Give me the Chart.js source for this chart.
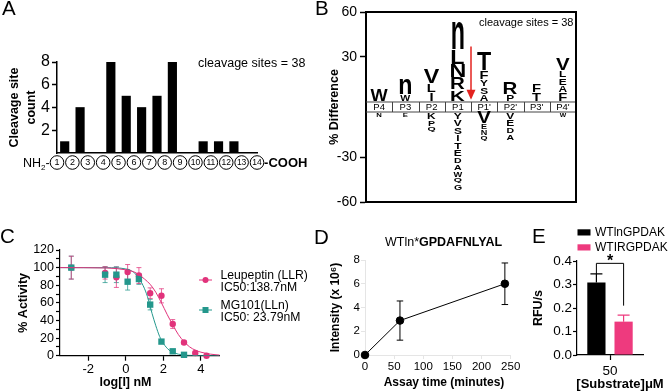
<!DOCTYPE html>
<html>
<head>
<meta charset="utf-8">
<title>Figure</title>
<script src="https://cdn.jsdelivr.net/npm/chart.js@4.4.1/dist/chart.umd.min.js"></script>
<style>
html, body { margin:0; padding:0; background:#ffffff; }
#fig { position:relative; width:669px; height:392px; background:#ffffff; overflow:hidden; }
#fig canvas { position:absolute; }
</style>
</head>
<body>
<div id="fig"></div>
<script>
// ================= DATA =================
// Panel A : cleavage sites between consecutive residues
const aResidues = ['1','2','3','4','5','6','7','8','9','10','11','12','13','14'];
const aCleavageCounts = [1, 4, 0, 8, 5, 4, 5, 8, 0, 1, 1, 1, 0];
const aYTicks = [2, 4, 6, 8];

// Panel B : sequence logo (% difference), letters listed top -> bottom
const bPositions = ['P4', 'P3', 'P2', 'P1', "P1'", "P2'", "P3'", "P4'"];
const bUpLetters = [['W'], ['n','W'], ['V','L','I'], ['n','L','N','R','K'], ['T','F','Y','S','A'], ['R','P'], ['F','T'], ['V','L','E','A','F']];
const bUpValues  = [[8], [11,5], [10,6,6], [19,10,9,8,8], [13,6,5,5,5], [8,5], [6,6], [8,5,5,5,6]];
const bDownLetters = [['N'], ['E'], ['K','P','Q'], ['Y','V','S','I','T','E','D','A','W','Q','G'], ['V','E','N','Q'], ['V','E','D','A'], [], ['W']];
const bDownValues  = [[3.5], [3.5], [5,4.5,4.5], [5,5,5,5,5,5,4.5,4.5,4.5,4.5,4.5], [8,4,4,4], [5,5,4.5,4.5], [], [3.5]];
const bYTickLabels = [60, 30, -30, -60];
const bArrow = [37, 1.5];

// Panel C : dose response
const cLogDose = [-2.9, -1.1, -0.5, 0.1, 0.7, 1.3, 1.9, 2.5, 3.1, 3.7, 4.3];
const cLeupeptin    = [100, 94, 89, 95, 91, 71, 68, 36, 15, 3, 0];
const cLeupeptinErr = [13, 7, 11.5, 8.5, 9, 6, 8, 5, 2, 1, 0.5];
const cMG101    = [100, 92, 92, 84, 87, 58, 16, 5, 1];
const cMG101Err = [13, 9, 9, 9.5, 6, 6, 2, 1.5, 1];
const cLeupeptinFitX = [-3.5, -1, 0, 0.4, 0.7, 1.0, 1.3, 1.6, 1.9, 2.2, 2.5, 2.8, 3.1, 3.4, 3.7, 4, 4.5, 5];
const cLeupeptinFitY = [100, 99.6, 97.5, 95.5, 92, 87, 81, 72, 60, 47, 35, 24, 16, 10, 6.3, 4, 1.8, 0.7];
const cMG101FitX = [-3.5, -1, 0, 0.4, 0.7, 1.0, 1.2, 1.4, 1.6, 1.8, 2.0, 2.3, 2.6, 3.0, 3.5, 4, 5];
const cMG101FitY = [100, 99.9, 98.5, 95, 88, 76, 64, 48, 34, 22, 14, 6.5, 3, 1, 0.3, 0.1, 0];
const cXTicks = [-2, 0, 2, 4];
const cYTicks = [0, 10, 20, 30, 40, 50, 60, 70, 80, 90, 100, 110, 120];
const cLegend = [['Leupeptin (LLR)', 'IC50:138.7nM'], ['MG101(LLn)', 'IC50: 23.79nM']];

// Panel D : time course
const dTimeMin = [0, 60, 240];
const dIntensity = [0, 2.9, 6.0];
const dIntensityErr = [0, 1.65, 1.75];
const dXTicks = [0, 50, 100, 150, 200, 250];
const dYTicks = [0, 2, 4, 6, 8];

// Panel E : rates
const eSeries = ['WTlnGPDAK', 'WTIRGPDAK'];
const eSubstrate = ['50'];
const eRateWTln = [0.308];
const eErrWTln = [0.037];
const eRateWTIR = [0.142];
const eErrWTIR = [0.028];
const eYTicks = [0, 0.1, 0.2, 0.3, 0.4];
const eBracket = [0.39, 0.345, 0.21];

// ================= HELPERS =================
const FONT = "'Liberation Sans', Arial, Helvetica, sans-serif";
const PINK_C = '#E1337B';
const PINK_C_ERR = 'rgba(225,51,123,0.75)';
const TEAL_C = '#24978C';
const TEAL_C_ERR = 'rgba(36,151,140,0.75)';
const PINK_E = '#EE3A7E';
const B_BAND = 6.667;
// panel canvases: [left, top, width, height] in page pixels
const PANEL_A = [0, 0, 312, 214];
const PANEL_B = [312, 0, 357, 214];
const PANEL_C = [0, 214, 312, 178];
const PANEL_D = [312, 214, 216, 178];
const PANEL_E = [528, 214, 141, 178];

Chart.defaults.font.family = FONT;
Chart.defaults.color = '#000';
Chart.defaults.animation = false;
Chart.defaults.plugins.legend.display = false;
Chart.defaults.plugins.tooltip.enabled = false;
Chart.defaults.events = [];

function makeCanvas(p) {
  const c = document.createElement('canvas');
  c.width = p[2]; c.height = p[3];
  c.style.left = p[0] + 'px'; c.style.top = p[1] + 'px';
  document.getElementById('fig').appendChild(c);
  return c;
}
// chart area given in page pixels
function layoutFor(p, left, top, right, bottom, yW, xH) {
  return { padding: { left: left - yW - p[0], top: top - p[1], right: p[0] + p[2] - right, bottom: p[1] + p[3] - bottom - xH } };
}
function fit(size) {
  return s => { if (s.isHorizontal()) s.height = size; else s.width = size; };
}
function setTicks(arr) {
  return s => { s.ticks = arr.map(v => ({ value: v })); };
}
function pageDraw(ctx, p, fn) {
  ctx.save(); ctx.translate(-p[0], -p[1]); fn(); ctx.restore();
}
function txt(ctx, s, x, y, size, o) {
  o = o || {};
  ctx.save();
  ctx.font = (o.weight || 'normal') + ' ' + size + 'px ' + FONT;
  ctx.fillStyle = o.color || '#000';
  ctx.textAlign = o.align || 'left';
  ctx.textBaseline = o.baseline || 'alphabetic';
  ctx.fillText(s, x, y);
  const w = ctx.measureText(s).width;
  ctx.restore();
  return w;
}
function measure(ctx, s, size, weight) {
  ctx.save();
  ctx.font = (weight || 'normal') + ' ' + size + 'px ' + FONT;
  const w = ctx.measureText(s).width;
  ctx.restore();
  return w;
}
function errBar(ctx, x, yTop, yBot, cap, color, lw, bottomCap) {
  ctx.save();
  ctx.strokeStyle = color; ctx.lineWidth = lw;
  ctx.beginPath();
  ctx.moveTo(x, yTop); ctx.lineTo(x, yBot);
  ctx.moveTo(x - cap / 2, yTop); ctx.lineTo(x + cap / 2, yTop);
  if (bottomCap) { ctx.moveTo(x - cap / 2, yBot); ctx.lineTo(x + cap / 2, yBot); }
  ctx.stroke();
  ctx.restore();
}
function drawLetter(ctx, ch, cx, yTop, yBot) {
  const h = yBot - yTop - 1.2;
  if (h <= 0) return;
  ctx.save();
  ctx.font = 'bold 100px ' + FONT;
  const m = ctx.measureText(ch);
  const gh = m.actualBoundingBoxAscent + m.actualBoundingBoxDescent;
  const gw = m.actualBoundingBoxLeft + m.actualBoundingBoxRight;
  const sy = h / gh;
  const ratio = Math.max(0.2, Math.min(1.45, gw / 58));
  const w = Math.min(h * 1.1, 13.5) * ratio;
  const sx = w / gw;
  ctx.fillStyle = '#000';
  ctx.textAlign = 'left';
  ctx.textBaseline = 'alphabetic';
  ctx.translate(cx, yBot - 0.6);
  ctx.scale(sx, sy);
  ctx.fillText(ch, -gw / 2 + m.actualBoundingBoxLeft, -m.actualBoundingBoxDescent);
  ctx.restore();
}

// ================= PANEL D (created first) =================
new Chart(makeCanvas(PANEL_D), {
  type: 'line',
  data: {
    datasets: [{
      data: dTimeMin.map((t, i) => ({ x: t, y: dIntensity[i] })),
      borderColor: '#000', borderWidth: 1, pointRadius: 3.8, pointBackgroundColor: '#000', clip: false
    }]
  },
  options: {
    responsive: false,
    devicePixelRatio: 1,
    layout: layoutFor(PANEL_D, 365, 260, 510.7, 355, 45, 28),
    scales: {
      x: {
        type: 'linear', min: 0, max: 250,
        afterBuildTicks: setTicks(dXTicks),
        ticks: { font: { size: 11.5 }, padding: 1, autoSkip: false, maxRotation: 0 },
        grid: { drawOnChartArea: false, tickLength: 4 },
        afterFit: fit(28)
      },
      y: {
        min: 0, max: 8,
        afterBuildTicks: setTicks(dYTicks),
        ticks: { font: { size: 11.5 }, padding: 1, autoSkip: false },
        grid: { drawOnChartArea: false, tickLength: 4 },
        title: { display: true, text: 'Intensity (x 10\u2076)', font: { size: 12, weight: 'bold' }, padding: { top: 8.3, bottom: 0 } },
        afterFit: fit(45)
      }
    }
  },
  plugins: [{
    id: 'panelD',
    beforeDatasetsDraw(chart) {
      const { ctx, scales: { x, y } } = chart;
      dIntensity.forEach((v, i) => {
        if (!dIntensityErr[i]) return;
        errBar(ctx, x.getPixelForValue(dTimeMin[i]), y.getPixelForValue(v + dIntensityErr[i]), y.getPixelForValue(v - dIntensityErr[i]), 6.5, '#000', 1, true);
      });
    },
    afterDraw(chart) {
      const { ctx } = chart;
      pageDraw(ctx, PANEL_D, () => {
        const w1 = txt(ctx, 'WTln*', 385, 243, 12.5, { baseline: 'middle' });
        txt(ctx, 'GPDAFNLYAL', 385 + w1, 243, 12.5, { weight: 'bold', baseline: 'middle' });
        txt(ctx, 'Assay time (minutes)', 444, 383, 12, { weight: 'bold', align: 'center', baseline: 'middle' });
        txt(ctx, 'D', 314, 244, 20.5);
      });
    }
  }]
});

// ================= PANEL A =================
new Chart(makeCanvas(PANEL_A), {
  type: 'bar',
  data: {
    datasets: [{
      data: aCleavageCounts.map((c, i) => ({ x: i + 1.5, y: c })),
      backgroundColor: '#000',
      borderWidth: 0,
      barThickness: 8.5
    }]
  },
  options: {
    responsive: false,
    devicePixelRatio: 1,
    layout: layoutFor(PANEL_A, 57, 62, 257, 153, 57, 0),
    scales: {
      x: {
        type: 'linear', min: 1, max: 14, offset: false,
        ticks: { display: false },
        grid: { display: false, offset: false },
        border: { display: true, color: '#000', width: 1.5 },
        afterFit: fit(0)
      },
      y: {
        min: 0, max: 8,
        afterBuildTicks: setTicks(aYTicks),
        ticks: { font: { size: 16 }, padding: 2, color: '#000', autoSkip: false },
        grid: { drawOnChartArea: false, tickLength: 5, tickColor: '#000', tickWidth: 1.5 },
        border: { color: '#000', width: 1.5 },
        title: { display: true, text: ['Cleavage site', 'count'], font: { size: 12.5, weight: 'bold', lineHeight: 1.3 }, padding: { top: 6.9, bottom: 0 }, color: '#000' },
        afterFit: fit(57)
      }
    }
  },
  plugins: [{
    id: 'panelA',
    afterDraw(chart) {
      const { ctx, chartArea: ca, scales: { x } } = chart;
      const cy = ca.bottom + 9.5;
      const r = 6.8;
      aResidues.forEach((lab, i) => {
        const cx = x.getPixelForValue(i + 1);
        ctx.save();
        ctx.beginPath(); ctx.arc(cx, cy, r, 0, Math.PI * 2);
        ctx.fillStyle = '#fff'; ctx.fill();
        ctx.lineWidth = 1; ctx.strokeStyle = '#000'; ctx.stroke();
        ctx.restore();
        txt(ctx, lab, cx, cy + 0.5, lab.length > 1 ? 8.5 : 9, { align: 'center', baseline: 'middle' });
      });
      const leftEdge = x.getPixelForValue(1) - r - 0.5;
      const wDash = measure(ctx, '-', 12.5);
      const wTwo = measure(ctx, '2', 8);
      const wNH = measure(ctx, 'NH', 12.5);
      txt(ctx, '-', leftEdge - wDash, cy + 4, 12.5);
      txt(ctx, '2', leftEdge - wDash - wTwo, cy + 7, 8);
      txt(ctx, 'NH', leftEdge - wDash - wTwo - wNH, cy + 4, 12.5);
      txt(ctx, '-COOH', x.getPixelForValue(14) + r + 0.3, cy + 4, 13, { weight: 'bold' });
      const total = aCleavageCounts.reduce((s, v) => s + v, 0);
      pageDraw(ctx, PANEL_A, () => {
        txt(ctx, 'cleavage sites = ' + total, 198, 66.5, 12.5);
        txt(ctx, 'A', 2, 15, 20.5);
      });
    }
  }]
});

// ================= PANEL B =================
const bDatasets = [];
(function buildLogo() {
  const maxUp = Math.max(...bUpValues.map(a => a.length));
  for (let k = 0; k < maxUp; k++) {
    const data = [], letters = [];
    bUpValues.forEach((vals, c) => {
      const n = vals.length;
      if (k < n) {
        const idx = n - 1 - k;
        let start = 0;
        for (let j = n - 1; j > idx; j--) start += vals[j];
        data.push([start, start + vals[idx]]);
        letters.push(bUpLetters[c][idx]);
      } else { data.push(null); letters.push(null); }
    });
    bDatasets.push({ data, letters, backgroundColor: 'rgba(0,0,0,0)', borderWidth: 0, grouped: false, barPercentage: 1, categoryPercentage: 1 });
  }
  const maxDown = Math.max(...bDownValues.map(a => a.length));
  for (let k = 0; k < maxDown; k++) {
    const data = [], letters = [];
    bDownValues.forEach((vals, c) => {
      if (k < vals.length) {
        let above = 0;
        for (let j = 0; j < k; j++) above += vals[j];
        const top = -B_BAND - above;
        data.push([top - vals[k], top]);
        letters.push(bDownLetters[c][k]);
      } else { data.push(null); letters.push(null); }
    });
    bDatasets.push({ data, letters, backgroundColor: 'rgba(0,0,0,0)', borderWidth: 0, grouped: false, barPercentage: 1, categoryPercentage: 1 });
  }
})();

new Chart(makeCanvas(PANEL_B), {
  type: 'bar',
  data: { labels: bPositions, datasets: bDatasets },
  options: {
    responsive: false,
    devicePixelRatio: 1,
    layout: layoutFor(PANEL_B, 366, 12, 576, 202, 40, 0),
    scales: {
      x: {
        type: 'category', offset: true,
        ticks: { display: false },
        grid: { display: false },
        border: { display: true, color: '#000', width: 2 },
        afterFit: fit(0)
      },
      y: {
        min: -60 - B_BAND, max: 60,
        afterBuildTicks: setTicks(bYTickLabels.map(l => l > 0 ? l : l - B_BAND)),
        ticks: { font: { size: 14 }, padding: 3, color: '#000', autoSkip: false, callback: v => (v > 0 ? v : Math.round(v + B_BAND)) },
        grid: { drawOnChartArea: false, tickLength: 6, tickColor: '#000', tickWidth: 1.5 },
        border: { color: '#000', width: 2 },
        title: { display: true, text: '% Difference', font: { size: 12.5, weight: 'bold' }, padding: { top: 1.5, bottom: 0 }, color: '#000' },
        afterFit: fit(40)
      }
    }
  },
  plugins: [{
    id: 'panelB',
    afterDatasetsDraw(chart) {
      const { ctx, chartArea: ca, scales: { x, y } } = chart;
      const yb0 = y.getPixelForValue(0), yb1 = y.getPixelForValue(-B_BAND);
      ctx.save();
      ctx.strokeStyle = '#444'; ctx.lineWidth = 1;
      ctx.beginPath();
      ctx.moveTo(ca.left, yb0); ctx.lineTo(ca.right, yb0);
      ctx.moveTo(ca.left, yb1); ctx.lineTo(ca.right, yb1);
      for (let i = 1; i < bPositions.length; i++) {
        const xx = Math.round(x.getPixelForValue(i - 0.5)) + 0.5;
        ctx.moveTo(xx, yb0); ctx.lineTo(xx, yb1);
      }
      ctx.stroke();
      ctx.restore();
      bPositions.forEach((p, i) => {
        txt(ctx, p, x.getPixelForValue(i), (yb0 + yb1) / 2 + 0.5, 9.5, { align: 'center', baseline: 'middle' });
      });
      chart.data.datasets.forEach((ds, di) => {
        const meta = chart.getDatasetMeta(di);
        meta.data.forEach((el, c) => {
          const L = ds.letters[c];
          if (!L) return;
          const top = Math.min(el.y, el.base), bot = Math.max(el.y, el.base);
          drawLetter(ctx, L, el.x, top, bot);
        });
      });
      const ax = x.getPixelForValue(3.5);
      const aTop = y.getPixelForValue(bArrow[0]), aTip = y.getPixelForValue(bArrow[1]);
      ctx.save();
      ctx.strokeStyle = '#E3231F'; ctx.fillStyle = '#E3231F'; ctx.lineWidth = 1.5;
      ctx.beginPath(); ctx.moveTo(ax, aTop); ctx.lineTo(ax, aTip - 8); ctx.stroke();
      ctx.beginPath(); ctx.moveTo(ax - 4.5, aTip - 10); ctx.lineTo(ax + 4.5, aTip - 10); ctx.lineTo(ax, aTip); ctx.closePath(); ctx.fill();
      ctx.restore();
      ctx.save();
      ctx.strokeStyle = '#000'; ctx.lineWidth = 2;
      ctx.beginPath();
      ctx.moveTo(ca.left, ca.top); ctx.lineTo(ca.right, ca.top); ctx.lineTo(ca.right, ca.bottom);
      ctx.stroke();
      ctx.restore();
      pageDraw(ctx, PANEL_B, () => {
        txt(ctx, 'cleavage sites = 38', 479, 25.5, 11);
        txt(ctx, 'B', 315, 15, 20.5);
      });
    }
  }]
});

// ================= PANEL C =================
new Chart(makeCanvas(PANEL_C), {
  type: 'line',
  data: {
    datasets: [
      { data: cLeupeptinFitX.map((v, i) => ({ x: v, y: cLeupeptinFitY[i] })), borderColor: PINK_C, borderWidth: 1, pointRadius: 0, cubicInterpolationMode: 'monotone', fill: false },
      { data: cMG101FitX.map((v, i) => ({ x: v, y: cMG101FitY[i] })), borderColor: TEAL_C, borderWidth: 1, pointRadius: 0, cubicInterpolationMode: 'monotone', fill: false },
      { data: cMG101.map((v, i) => ({ x: cLogDose[i], y: v })), showLine: false, pointStyle: 'rect', pointRadius: 4.5, backgroundColor: TEAL_C, borderColor: TEAL_C, borderWidth: 0, clip: false },
      { data: cLeupeptin.map((v, i) => ({ x: cLogDose[i], y: v })), showLine: false, pointStyle: 'circle', pointRadius: 3.2, backgroundColor: PINK_C, borderColor: PINK_C, borderWidth: 0, clip: false }
    ]
  },
  options: {
    responsive: false,
    devicePixelRatio: 1,
    layout: layoutFor(PANEL_C, 60, 250, 219.7, 355.7, 60, 30),
    scales: {
      x: {
        type: 'linear', min: -3.5, max: 5,
        afterBuildTicks: setTicks(cXTicks),
        ticks: { font: { size: 13 }, padding: 1, color: '#000', autoSkip: false, maxRotation: 0 },
        grid: { drawOnChartArea: false, tickLength: 5, tickColor: '#000', tickWidth: 1.2 },
        border: { color: '#000', width: 1.2 },
        afterFit: fit(30)
      },
      y: {
        min: 0, max: 120,
        afterBuildTicks: setTicks(cYTicks),
        ticks: { font: { size: 12.5 }, padding: 2, color: '#000', autoSkip: false, callback: v => (v % 20 === 0 ? v : '') },
        grid: { drawOnChartArea: false, tickLength: 4, tickColor: '#000', tickWidth: 1.2 },
        border: { color: '#000', width: 1.2 },
        title: { display: true, text: '% Activity', font: { size: 12.5, weight: 'bold' }, padding: { top: 16.5, bottom: 0 }, color: '#000' },
        afterFit: fit(60)
      }
    }
  },
  plugins: [{
    id: 'panelC',
    beforeDatasetsDraw(chart) {
      const { ctx, scales: { x, y } } = chart;
      const sets = [
        { xs: cLogDose, ys: cMG101, es: cMG101Err, color: TEAL_C_ERR },
        { xs: cLogDose, ys: cLeupeptin, es: cLeupeptinErr, color: PINK_C_ERR }
      ];
      sets.forEach(s => {
        s.ys.forEach((v, i) => {
          const px = x.getPixelForValue(s.xs[i]);
          errBar(ctx, px, y.getPixelForValue(v + s.es[i]), y.getPixelForValue(Math.max(0, v - s.es[i])), 5, s.color, 1, true);
        });
      });
    },
    afterDraw(chart) {
      const { ctx } = chart;
      pageDraw(ctx, PANEL_C, () => {
        const items = [{ y: 280, color: PINK_C, style: 'circle', textY: [276, 288] }, { y: 310, color: TEAL_C, style: 'rect', textY: [306, 318] }];
        items.forEach((it, k) => {
          ctx.save();
          ctx.strokeStyle = it.color; ctx.fillStyle = it.color; ctx.lineWidth = 1;
          ctx.beginPath(); ctx.moveTo(199, it.y); ctx.lineTo(212, it.y); ctx.stroke();
          if (it.style === 'circle') { ctx.beginPath(); ctx.arc(205.5, it.y, 3, 0, Math.PI * 2); ctx.fill(); }
          else { ctx.fillRect(202.5, it.y - 3, 6, 6); }
          ctx.restore();
          txt(ctx, cLegend[k][0], 220.5, it.textY[0], 12.2, { baseline: 'middle' });
          txt(ctx, cLegend[k][1], 220.5, it.textY[1], 12.2, { baseline: 'middle' });
        });
        txt(ctx, 'log[I] nM', 125.5, 383, 12.5, { weight: 'bold', align: 'center', baseline: 'middle' });
        txt(ctx, 'C', 0, 243, 20.5);
      });
    }
  }]
});

// ================= PANEL E =================
new Chart(makeCanvas(PANEL_E), {
  type: 'bar',
  data: {
    labels: eSubstrate,
    datasets: [
      { label: eSeries[0], data: eRateWTln, backgroundColor: '#000', borderWidth: 0, categoryPercentage: 0.824, barPercentage: 0.67 },
      { label: eSeries[1], data: eRateWTIR, backgroundColor: PINK_E, borderWidth: 0, categoryPercentage: 0.824, barPercentage: 0.67 }
    ]
  },
  options: {
    responsive: false,
    devicePixelRatio: 1,
    layout: layoutFor(PANEL_E, 577, 261, 643, 355, 48, 28),
    scales: {
      x: {
        type: 'category', offset: true,
        ticks: { font: { size: 13.5 }, padding: 3, color: '#000', autoSkip: false },
        grid: { drawOnChartArea: false, offset: false, tickLength: 5, tickColor: '#000', tickWidth: 1.2 },
        border: { color: '#000', width: 1.2 },
        afterFit: fit(28)
      },
      y: {
        min: 0, max: 0.4,
        afterBuildTicks: setTicks(eYTicks),
        ticks: { font: { size: 13.5 }, padding: 1, color: '#000', autoSkip: false, callback: v => Number(v).toFixed(1) },
        grid: { drawOnChartArea: false, tickLength: 4, tickColor: '#000', tickWidth: 1.2 },
        border: { color: '#000', width: 1.2 },
        title: { display: true, text: 'RFU/s', font: { size: 12.5, weight: 'bold' }, padding: { top: 2.5, bottom: 0 }, color: '#000' },
        afterFit: fit(48)
      }
    }
  },
  plugins: [{
    id: 'panelE',
    afterDatasetsDraw(chart) {
      const { ctx, scales: { y } } = chart;
      const b0 = chart.getDatasetMeta(0).data[0];
      const b1 = chart.getDatasetMeta(1).data[0];
      errBar(ctx, b0.x, y.getPixelForValue(eRateWTln[0] + eErrWTln[0]), y.getPixelForValue(eRateWTln[0]), 12, '#000', 1.2, false);
      errBar(ctx, b1.x, y.getPixelForValue(eRateWTIR[0] + eErrWTIR[0]), y.getPixelForValue(eRateWTIR[0]), 12, PINK_E, 1.2, false);
      const yt = y.getPixelForValue(eBracket[0]);
      ctx.save();
      ctx.strokeStyle = '#000'; ctx.lineWidth = 1;
      ctx.beginPath();
      ctx.moveTo(b0.x, y.getPixelForValue(eBracket[1]));
      ctx.lineTo(b0.x, yt); ctx.lineTo(b1.x, yt);
      ctx.lineTo(b1.x, y.getPixelForValue(eBracket[2]));
      ctx.stroke();
      ctx.restore();
      txt(ctx, '*', (b0.x + b1.x) / 2, yt + 2.5, 16, { weight: 'bold', align: 'center' });
    },
    afterDraw(chart) {
      const { ctx } = chart;
      pageDraw(ctx, PANEL_E, () => {
        ctx.save();
        ctx.fillStyle = '#000'; ctx.fillRect(577.5, 229.3, 13, 6.2);
        ctx.fillStyle = PINK_E; ctx.fillRect(577.5, 244.3, 13, 6.2);
        ctx.restore();
        txt(ctx, eSeries[0], 595, 232.5, 12, { baseline: 'middle' });
        txt(ctx, eSeries[1], 595, 247.5, 12, { baseline: 'middle' });
        txt(ctx, '[Substrate]\u03BCM', 620, 384, 13, { weight: 'bold', align: 'center', baseline: 'middle' });
        txt(ctx, 'E', 532, 243, 20.5);
      });
    }
  }]
});
</script>
</body>
</html>
